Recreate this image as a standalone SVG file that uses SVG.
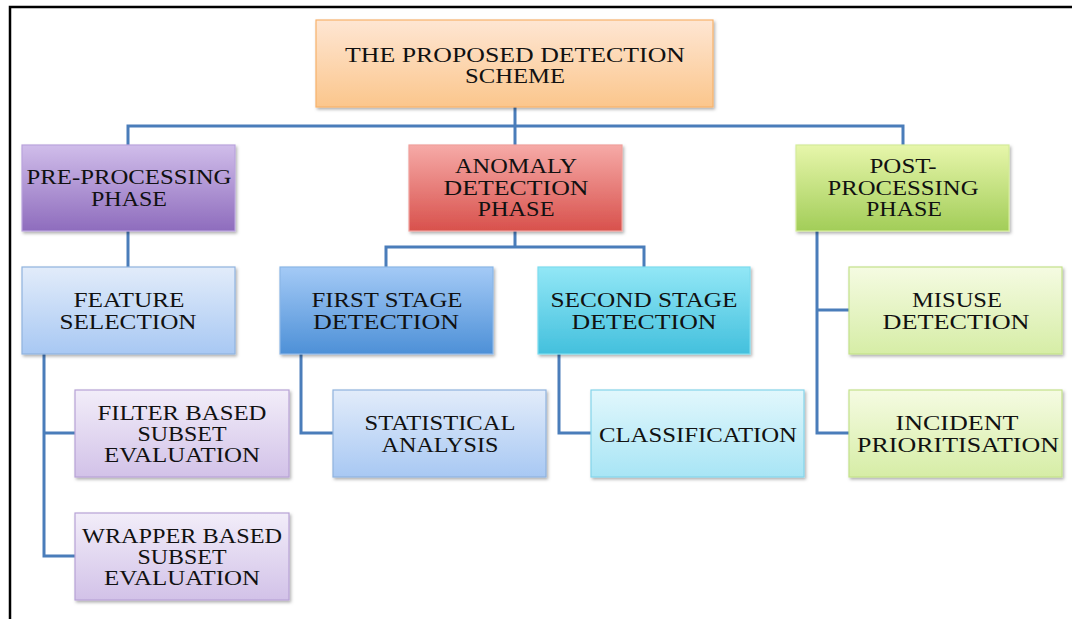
<svg xmlns="http://www.w3.org/2000/svg" width="1072" height="619" viewBox="0 0 1072 619">
  <defs>
    <linearGradient id="gOrange" x1="0" y1="0" x2="0" y2="1"><stop offset="0" stop-color="#fee6d3"/><stop offset="1" stop-color="#fbc68c"/></linearGradient>
    <linearGradient id="gPurple" x1="0" y1="0" x2="0" y2="1"><stop offset="0" stop-color="#d0bdea"/><stop offset="1" stop-color="#8e6cbd"/></linearGradient>
    <linearGradient id="gRed" x1="0" y1="0" x2="0" y2="1"><stop offset="0" stop-color="#f6aaa7"/><stop offset="1" stop-color="#d8514c"/></linearGradient>
    <linearGradient id="gGreen" x1="0" y1="0" x2="0" y2="1"><stop offset="0" stop-color="#e7f6ab"/><stop offset="1" stop-color="#a2cd58"/></linearGradient>
    <linearGradient id="gLightBlue" x1="0" y1="0" x2="0" y2="1"><stop offset="0" stop-color="#e2ecfa"/><stop offset="1" stop-color="#a8c8f3"/></linearGradient>
    <linearGradient id="gBlue" x1="0" y1="0" x2="0" y2="1"><stop offset="0" stop-color="#a4caf6"/><stop offset="1" stop-color="#4d90d7"/></linearGradient>
    <linearGradient id="gCyan" x1="0" y1="0" x2="0" y2="1"><stop offset="0" stop-color="#92e7f6"/><stop offset="1" stop-color="#43c0dd"/></linearGradient>
    <linearGradient id="gLightCyan" x1="0" y1="0" x2="0" y2="1"><stop offset="0" stop-color="#e1f7fc"/><stop offset="1" stop-color="#a8e5f5"/></linearGradient>
    <linearGradient id="gLightGreen" x1="0" y1="0" x2="0" y2="1"><stop offset="0" stop-color="#f5fbe2"/><stop offset="1" stop-color="#d6eda6"/></linearGradient>
    <linearGradient id="gLightPurple" x1="0" y1="0" x2="0" y2="1"><stop offset="0" stop-color="#f2edf9"/><stop offset="1" stop-color="#d2c2e8"/></linearGradient>
    <filter id="shadow" x="-5%" y="-5%" width="115%" height="120%">
      <feDropShadow dx="1.5" dy="2" stdDeviation="1.5" flood-color="#000" flood-opacity="0.3"/>
    </filter>
  </defs>
  <style>
    .box { filter: url(#shadow); stroke-width: 1.2; }
    .lbl { font-family: "Liberation Serif", "Times New Roman", serif; font-size: 21px; fill: #111; text-anchor: middle; }
    .conn { fill: none; stroke: #4a7dba; stroke-width: 3; }
  </style>

  <rect width="1072" height="619" fill="#ffffff"/>
  <!-- frame -->
  <path d="M10 619 V7 H1072" fill="none" stroke="#000" stroke-width="2.5"/>

  <!-- connectors -->
  <g id="connectors" class="conn">
    <path d="M515 107 V145"/>
    <path d="M128 145 V126 H903 V145"/>
    <path d="M128 231 V267"/>
    <path d="M515 231 V247 M386 267 V247 H644 V267"/>
    <path d="M817 231 V433 H849 M817 310 H849"/>
    <path d="M44 354 V556 H75 M44 433 H75"/>
    <path d="M301 354 V433 H333"/>
    <path d="M559 354 V433 H591"/>
  </g>

  <g id="scheme">
    <rect class="box" x="316" y="20" width="397" height="87" fill="url(#gOrange)" stroke="#f7b26c"/>
    <text class="lbl" x="515" y="62" textLength="340" lengthAdjust="spacingAndGlyphs">THE PROPOSED DETECTION</text>
    <text class="lbl" x="515" y="83" textLength="100" lengthAdjust="spacingAndGlyphs">SCHEME</text>
  </g>

  <g id="pre-processing">
    <rect class="box" x="22" y="145" width="213" height="86" fill="url(#gPurple)" stroke="#b9a3dc"/>
    <text class="lbl" x="129" y="184" textLength="205" lengthAdjust="spacingAndGlyphs">PRE-PROCESSING</text>
    <text class="lbl" x="129" y="206" textLength="76" lengthAdjust="spacingAndGlyphs">PHASE</text>
  </g>

  <g id="anomaly">
    <rect class="box" x="409" y="145" width="213" height="86" fill="url(#gRed)" stroke="#f0a09c"/>
    <text class="lbl" x="516" y="173" textLength="122" lengthAdjust="spacingAndGlyphs">ANOMALY</text>
    <text class="lbl" x="516" y="195" textLength="145" lengthAdjust="spacingAndGlyphs">DETECTION</text>
    <text class="lbl" x="516" y="216" textLength="77" lengthAdjust="spacingAndGlyphs">PHASE</text>
  </g>

  <g id="post-processing">
    <rect class="box" x="796" y="145" width="213" height="86" fill="url(#gGreen)" stroke="#d4ec9a"/>
    <text class="lbl" x="903" y="173" textLength="67" lengthAdjust="spacingAndGlyphs">POST-</text>
    <text class="lbl" x="903" y="195" textLength="151" lengthAdjust="spacingAndGlyphs">PROCESSING</text>
    <text class="lbl" x="904" y="216" textLength="76" lengthAdjust="spacingAndGlyphs">PHASE</text>
  </g>

  <g id="feature-selection">
    <rect class="box" x="22" y="267" width="213" height="87" fill="url(#gLightBlue)" stroke="#8fb3de"/>
    <text class="lbl" x="129" y="307" textLength="111" lengthAdjust="spacingAndGlyphs">FEATURE</text>
    <text class="lbl" x="128" y="329" textLength="137" lengthAdjust="spacingAndGlyphs">SELECTION</text>
  </g>

  <g id="first-stage">
    <rect class="box" x="280" y="267" width="213" height="87" fill="url(#gBlue)" stroke="#8ab6e6"/>
    <text class="lbl" x="387" y="307" textLength="151" lengthAdjust="spacingAndGlyphs">FIRST STAGE</text>
    <text class="lbl" x="386" y="329" textLength="146" lengthAdjust="spacingAndGlyphs">DETECTION</text>
  </g>

  <g id="second-stage">
    <rect class="box" x="538" y="267" width="212" height="87" fill="url(#gCyan)" stroke="#7ddcef"/>
    <text class="lbl" x="644" y="307" textLength="187" lengthAdjust="spacingAndGlyphs">SECOND STAGE</text>
    <text class="lbl" x="644" y="329" textLength="145" lengthAdjust="spacingAndGlyphs">DETECTION</text>
  </g>

  <g id="misuse">
    <rect class="box" x="849" y="267" width="213" height="87" fill="url(#gLightGreen)" stroke="#c4e28a"/>
    <text class="lbl" x="957" y="307" textLength="90" lengthAdjust="spacingAndGlyphs">MISUSE</text>
    <text class="lbl" x="956" y="329" textLength="147" lengthAdjust="spacingAndGlyphs">DETECTION</text>
  </g>

  <g id="filter-based">
    <rect class="box" x="75" y="390" width="214" height="87" fill="url(#gLightPurple)" stroke="#b7a2d6"/>
    <text class="lbl" x="182" y="420" textLength="169" lengthAdjust="spacingAndGlyphs">FILTER BASED</text>
    <text class="lbl" x="182" y="441" textLength="89" lengthAdjust="spacingAndGlyphs">SUBSET</text>
    <text class="lbl" x="182" y="462" textLength="156" lengthAdjust="spacingAndGlyphs">EVALUATION</text>
  </g>

  <g id="statistical">
    <rect class="box" x="333" y="390" width="213" height="87" fill="url(#gLightBlue)" stroke="#8fb3de"/>
    <text class="lbl" x="440" y="430" textLength="151" lengthAdjust="spacingAndGlyphs">STATISTICAL</text>
    <text class="lbl" x="440" y="452" textLength="117" lengthAdjust="spacingAndGlyphs">ANALYSIS</text>
  </g>

  <g id="classification">
    <rect class="box" x="591" y="390" width="213" height="87" fill="url(#gLightCyan)" stroke="#84d4ea"/>
    <text class="lbl" x="698" y="442" textLength="198" lengthAdjust="spacingAndGlyphs">CLASSIFICATION</text>
  </g>

  <g id="incident">
    <rect class="box" x="849" y="390" width="213" height="87" fill="url(#gLightGreen)" stroke="#c4e28a"/>
    <text class="lbl" x="957" y="430" textLength="123" lengthAdjust="spacingAndGlyphs">INCIDENT</text>
    <text class="lbl" x="958" y="452" textLength="202" lengthAdjust="spacingAndGlyphs">PRIORITISATION</text>
  </g>

  <g id="wrapper-based">
    <rect class="box" x="75" y="513" width="214" height="87" fill="url(#gLightPurple)" stroke="#b7a2d6"/>
    <text class="lbl" x="182" y="543" textLength="200" lengthAdjust="spacingAndGlyphs">WRAPPER BASED</text>
    <text class="lbl" x="182" y="564" textLength="89" lengthAdjust="spacingAndGlyphs">SUBSET</text>
    <text class="lbl" x="182" y="585" textLength="156" lengthAdjust="spacingAndGlyphs">EVALUATION</text>
  </g>
</svg>
